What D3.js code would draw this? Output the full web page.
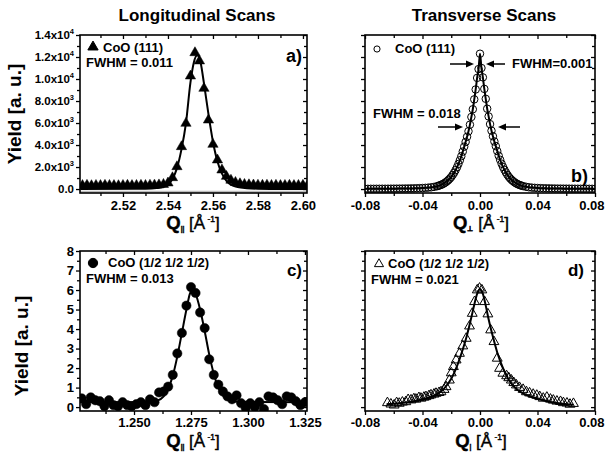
<!DOCTYPE html>
<html>
<head>
<meta charset="utf-8">
<script src="https://cdn.jsdelivr.net/npm/d3@7"></script>
<style>
body { margin: 0; background: #fff; }
svg { font-family: "Liberation Sans", Arial, sans-serif; font-weight: bold; }
</style>
</head>
<body>
<svg id="chart" width="605" height="452"></svg>
<script>
// ---- panel a) longitudinal CoO (111) ----
var aX = [2.502, 2.504, 2.506, 2.508, 2.510, 2.512, 2.514, 2.516, 2.518, 2.520, 2.522, 2.524, 2.526, 2.528, 2.530,
    2.532, 2.534, 2.536, 2.538, 2.540, 2.542, 2.544, 2.546, 2.548, 2.550, 2.552, 2.554, 2.556, 2.558, 2.560,
    2.562, 2.564, 2.566, 2.568, 2.570, 2.572, 2.574, 2.576, 2.578, 2.580, 2.582, 2.584, 2.586, 2.588, 2.590,
    2.592, 2.594, 2.596, 2.598, 2.600, 2.602];
var aY = [320, 340, 310, 330, 320, 340, 330, 320, 310, 330, 340, 320, 330, 340, 330,
    350, 360, 380, 420, 550, 1030, 2030, 3850, 5970, 10270, 12390, 11640, 9150, 6270, 4060,
    2640, 1730, 1150, 800, 600, 480, 420, 390, 370, 350, 340, 350, 330, 340, 320,
    330, 340, 320, 330, 340, 320];
var aFitX = [2.501, 2.525, 2.530, 2.535, 2.538, 2.540, 2.542, 2.544, 2.546, 2.548, 2.550, 2.5515, 2.553,
    2.5545, 2.556, 2.558, 2.560, 2.562, 2.564, 2.566, 2.568, 2.571, 2.575, 2.580, 2.590, 2.602];
var aFitY = [0, 20, 30, 90, 200, 400, 900, 1900, 3600, 6000, 9700, 11500, 12150,
    11500, 9600, 6800, 4300, 2500, 1400, 750, 400, 180, 80, 30, 10, 0];
var aYTicks = [0, 2000, 4000, 6000, 8000, 10000, 12000, 14000];
var aYTickText = ["0.0", "2.0x10", "4.0x10", "6.0x10", "8.0x10", "1.0x10", "1.2x10", "1.4x10"];
var aYTickExp = ["", "3", "3", "3", "3", "4", "4", "4"];
var aXTicks = [2.52, 2.54, 2.56, 2.58, 2.60];

// ---- panel b) transverse CoO (111) ----
var bX = [-0.080, -0.078, -0.076, -0.074, -0.072, -0.070, -0.068, -0.066, -0.064, -0.062, -0.060, -0.058, -0.056,
    -0.054, -0.052, -0.050, -0.048, -0.046, -0.044, -0.042, -0.040, -0.038, -0.036, -0.034, -0.032,
    -0.030, -0.029, -0.028, -0.027, -0.026, -0.025, -0.024, -0.023, -0.022, -0.021, -0.020, -0.019, -0.018,
    -0.017, -0.016, -0.015, -0.014, -0.013, -0.012, -0.011, -0.010, -0.009, -0.008, -0.007, -0.006, -0.005,
    -0.004, -0.003, -0.002, -0.001, 0.000, 0.001, 0.002, 0.003, 0.004, 0.005, 0.006, 0.007, 0.008, 0.009,
    0.010, 0.011, 0.012, 0.013, 0.014, 0.015, 0.016, 0.017, 0.018, 0.019, 0.020, 0.021, 0.022, 0.023,
    0.024, 0.025, 0.026, 0.027, 0.028, 0.029, 0.030,
    0.032, 0.034, 0.036, 0.038, 0.040, 0.042, 0.044, 0.046, 0.048, 0.050, 0.052, 0.054, 0.056, 0.058,
    0.060, 0.062, 0.064, 0.066, 0.068, 0.070, 0.072, 0.074, 0.076, 0.078, 0.080];
var bY = [20, 20, 22, 22, 24, 25, 27, 28, 30, 32, 35, 37, 40,
    43, 47, 51, 56, 62, 70, 80, 92, 108, 128, 155, 195,
    250, 290, 335, 385, 445, 515, 600, 700, 815, 945, 1100, 1280, 1480,
    1720, 1980, 2280, 2620, 2980, 3400, 3850, 4280, 4750, 5250, 5850, 6550, 7250,
    8150, 9050, 10100, 10900, 12300, 11000, 10150, 9100, 8200, 7300, 6600, 5900, 5300, 4800,
    4320, 3900, 3450, 3030, 2660, 2310, 2010, 1750, 1510, 1300, 1120, 960, 830, 715,
    615, 525, 455, 395, 345, 300, 262,
    205, 160, 130, 110, 93, 81, 71, 63, 57, 52, 47, 43, 40, 37,
    35, 33, 31, 29, 27, 26, 24, 23, 22, 21, 20];
var bXTicks = [-0.08, -0.04, 0.00, 0.04, 0.08];

// ---- panel c) longitudinal CoO (1/2 1/2 1/2) ----
var cX = [1.227, 1.229, 1.231, 1.233, 1.235, 1.237, 1.239, 1.241, 1.243, 1.245, 1.247, 1.249, 1.251,
    1.253, 1.255, 1.257, 1.259, 1.261, 1.263, 1.265, 1.267, 1.269, 1.271, 1.273, 1.275, 1.277, 1.279,
    1.281, 1.283, 1.285, 1.287, 1.289, 1.291, 1.293, 1.295, 1.297, 1.299, 1.301, 1.303, 1.305, 1.307,
    1.309, 1.311, 1.313, 1.315, 1.317, 1.319, 1.321, 1.323, 1.325];
var cY = [0.45, 0.15, 0.50, 0.35, 0.30, 0.05, 0.35, 0.10, 0.05, 0.25, 0.10, 0.05, 0.15,
    0.25, 0.10, 0.40, 0.25, 0.75, 0.80, 1.05, 1.65, 2.75, 3.80, 5.20, 6.15, 5.85, 4.85,
    4.05, 2.45, 1.65, 1.15, 0.80, 0.55, 0.40, 0.60, 0.20, -0.05, 0.20, 0.00, 0.25, -0.10,
    0.55, 0.50, 0.35, 0.15, 0.55, 0.50, 0.30, 0.10, 0.25];
var cFitX = [1.226, 1.250, 1.257, 1.260, 1.263, 1.265, 1.267, 1.269, 1.271, 1.273, 1.2745, 1.2755,
    1.277, 1.279, 1.281, 1.283, 1.285, 1.287, 1.289, 1.292, 1.296, 1.326];
var cFitY = [0.25, 0.25, 0.27, 0.32, 0.55, 0.95, 1.60, 2.60, 3.80, 5.00, 5.80, 6.00,
    5.80, 5.00, 3.90, 2.70, 1.70, 1.00, 0.60, 0.35, 0.27, 0.25];
var cYTicks = [0, 1, 2, 3, 4, 5, 6, 7, 8];
var cXTicks = [1.250, 1.275, 1.300, 1.325];

// ---- panel d) transverse CoO (1/2 1/2 1/2) ----
var dX = [-0.0644, -0.0620, -0.0597, -0.0580, -0.0562, -0.0540, -0.0516, -0.0500, -0.0480, -0.0460, -0.0446,
    -0.0425, -0.0411, -0.0390, -0.0376, -0.0355, -0.0341, -0.0320, -0.0306, -0.0285, -0.0271, -0.0250,
    -0.0236, -0.0213, -0.0200, -0.0185, -0.0166, -0.0143, -0.0120, -0.0096, -0.0073, -0.0054, -0.0038,
    -0.0019, -0.0003, 0.0013, 0.0032, 0.0055, 0.0074, 0.0097, 0.0120, 0.0136, 0.0159, 0.0185, 0.0200,
    0.0218, 0.0235, 0.0253, 0.0275, 0.0300, 0.0323, 0.0345, 0.0370, 0.0395, 0.0416, 0.0440, 0.0465,
    0.0490, 0.0510, 0.0535, 0.0560, 0.0580, 0.0605, 0.0626, 0.0650];
var dY = [0.22, 0.15, 0.10, 0.22, 0.19, 0.25, 0.27, 0.38, 0.36, 0.42, 0.40,
    0.48, 0.45, 0.50, 0.53, 0.58, 0.62, 0.66, 0.70, 0.74, 0.78, 0.90,
    1.04, 1.38, 1.75, 2.07, 2.41, 2.75, 3.13, 3.52, 4.15, 4.80, 5.40,
    6.00, 6.09, 6.00, 5.40, 4.77, 3.95, 3.35, 2.50, 1.98, 1.73, 1.60, 1.50,
    1.38, 1.25, 1.13, 1.00, 0.90, 0.78, 0.72, 0.65, 0.60, 0.53, 0.45, 0.50,
    0.40, 0.35, 0.30, 0.28, 0.22, 0.20, 0.14, 0.18];
var dFitX = [-0.065, -0.050, -0.040, -0.030, -0.025, -0.020, -0.016, -0.012, -0.009, -0.006, -0.004, -0.002,
    0.000, 0.002, 0.004, 0.006, 0.009, 0.012, 0.016, 0.020, 0.025, 0.030, 0.040, 0.050, 0.065];
var dFitY = [0.15, 0.25, 0.40, 0.65, 0.95, 1.45, 2.10, 2.95, 3.70, 4.60, 5.25, 5.80,
    6.05, 5.80, 5.20, 4.50, 3.60, 2.80, 2.00, 1.40, 0.95, 0.70, 0.42, 0.25, 0.12];

var svg = d3.select("#chart");
var hyphen = function (f) { return function (d) { return f(d).replace("\u2212", "-"); }; };

function zip(xs, ys) {
    return xs.map(function (v, i) { return [v, ys[i]]; });
}

function drawPanel(o) {
    var x = d3.scaleLinear().domain(o.xDom).range([o.left, o.right]);
    var y = d3.scaleLinear().domain(o.yDom).range([o.bottom, o.top]);
    var g = svg.append("g");

    g.append("clipPath").attr("id", o.id + "clip")
        .append("rect").attr("x", o.left).attr("y", o.top)
        .attr("width", o.right - o.left).attr("height", o.bottom - o.top);

    // minor ticks first, then major
    var ax = function (gen, tr) {
        var s = g.append("g").attr("transform", tr).call(gen);
        s.select(".domain").remove();
        s.selectAll("line").attr("stroke-width", 1.3);
        return s;
    };
    ax(d3.axisBottom(x).tickValues(o.xMinor).tickSize(3).tickFormat(""), "translate(0," + o.bottom + ")");
    ax(d3.axisTop(x).tickValues(o.xMinor).tickSize(-3).tickFormat(""), "translate(0," + o.top + ")");
    ax(d3.axisLeft(y).tickValues(o.yMinor).tickSize(3).tickFormat(""), "translate(" + o.left + ",0)");
    ax(d3.axisRight(y).tickValues(o.yMinor).tickSize(-3).tickFormat(""), "translate(" + o.right + ",0)");

    var bx = ax(d3.axisBottom(x).tickValues(o.xTicks).tickSize(4).tickPadding(o.xPad || 4).tickFormat(o.xFmt),
        "translate(0," + o.bottom + ")");
    bx.selectAll("text").attr("font-size", 13).attr("font-weight", "bold")
        .attr("font-family", "Liberation Sans, Arial, sans-serif").attr("fill", "#000");
    if (o.lastEnd) {
        // keep the last label inside the page
        bx.selectAll("text").filter(function (d, i, n) { return i === n.length - 1; })
            .attr("text-anchor", "end").attr("x", 9);
    }
    ax(d3.axisTop(x).tickValues(o.xTicks).tickSize(-4).tickFormat(""), "translate(0," + o.top + ")");
    var ly = ax(d3.axisLeft(y).tickValues(o.yTicks).tickSize(4).tickPadding(2).tickFormat(o.yFmt || ""),
        "translate(" + o.left + ",0)");
    ly.selectAll("text").attr("font-size", o.yFont || 12).attr("font-weight", "bold")
        .attr("font-family", "Liberation Sans, Arial, sans-serif").attr("fill", "#000");
    if (o.yExp) {
        ly.selectAll("text").each(function (d, i) {
            var t = d3.select(this);
            t.text(o.yText[i]);
            if (o.yExp[i]) {
                t.append("tspan").attr("font-size", 7.5).attr("dy", -5).text(o.yExp[i]);
            }
        });
    }
    ax(d3.axisRight(y).tickValues(o.yTicks).tickSize(-4).tickFormat(""), "translate(" + o.right + ",0)");

    var plot = g.append("g").attr("clip-path", "url(#" + o.id + "clip)");
    return { x: x, y: y, g: g, plot: plot, o: o };
}

function frame(p) {
    p.g.append("rect").attr("x", p.o.left).attr("y", p.o.top)
        .attr("width", p.o.right - p.o.left).attr("height", p.o.bottom - p.o.top)
        .attr("fill", "none").attr("stroke", "#000").attr("stroke-width", 1.6);
}

function fitLine(p, pts) {
    p.plot.append("path").datum(pts)
        .attr("fill", "none").attr("stroke", "#000").attr("stroke-width", 2)
        .attr("d", d3.line().x(function (d) { return p.x(d[0]); })
            .y(function (d) { return p.y(d[1]); }).curve(d3.curveMonotoneX));
}

function markers(p, pts, type, size, filled) {
    p.plot.selectAll(null).data(pts).enter().append("path")
        .attr("transform", function (d) { return "translate(" + p.x(d[0]) + "," + p.y(d[1]) + ")"; })
        .attr("d", d3.symbol().type(type).size(size))
        .attr("fill", filled ? "#000" : "#fff").attr("fill-opacity", filled ? 1 : 0)
        .attr("stroke", "#000").attr("stroke-width", filled ? 0.5 : 1);
}

function label(parts, x, y, anchor) {
    var t = svg.append("text").attr("x", x).attr("y", y).attr("text-anchor", anchor || "start");
    parts.forEach(function (pt) {
        var s = t.append("tspan").text(pt.t);
        if (pt.size) s.attr("font-size", pt.size);
        if (pt.dy) s.attr("dy", pt.dy);
        if (pt.w) s.attr("font-weight", pt.w);
        if (pt.dx) s.attr("dx", pt.dx);
    });
    return t;
}

function arrow(x1, y1, x2, y2) {
    // head at (x2, y2)
    var dir = x2 > x1 ? 1 : -1;
    svg.append("line").attr("x1", x1).attr("y1", y1).attr("x2", x2 - dir * 5).attr("y2", y2)
        .attr("stroke", "#000").attr("stroke-width", 1.5);
    svg.append("path")
        .attr("d", "M" + x2 + "," + y2 + "L" + (x2 - dir * 8) + "," + (y2 - 3.5) + "L" + (x2 - dir * 8) + "," + (y2 + 3.5) + "Z")
        .attr("fill", "#000");
}

// ---- a) ----
var pa = drawPanel({
    id: "a", left: 80, right: 307, top: 35, bottom: 193,
    xDom: [2.5009, 2.6018], yDom: [-360, 14000],
    xTicks: aXTicks, xMinor: [2.51, 2.53, 2.55, 2.57, 2.59],
    yTicks: aYTicks, yMinor: [1000, 3000, 5000, 7000, 9000, 11000, 13000],
    xFmt: d3.format(".2f"), yFmt: function (d) { return d; }, yText: aYTickText, yExp: aYTickExp, yFont: 11.5
});
pa.plot.append("line").attr("x1", 80).attr("x2", 307)
    .attr("y1", pa.y(-250)).attr("y2", pa.y(-250)).attr("stroke", "#bbb").attr("stroke-width", 2);
fitLine(pa, zip(aFitX, aFitY));
markers(pa, zip(aX, aY), d3.symbolTriangle, 46, true);
frame(pa);

// ---- b) ----
var pb = drawPanel({
    id: "b", left: 365, right: 595, top: 35, bottom: 193,
    xDom: [-0.08, 0.08], yDom: [-360, 14000],
    xTicks: bXTicks, xMinor: [-0.06, -0.02, 0.02, 0.06],
    yTicks: aYTicks, yMinor: [1000, 3000, 5000, 7000, 9000, 11000, 13000],
    xFmt: hyphen(d3.format(".2f")), lastEnd: true
});
fitLine(pb, zip(bX, bY));
markers(pb, zip(bX, bY), d3.symbolCircle, 44, false);
frame(pb);

// ---- c) ----
var pc = drawPanel({
    id: "c", left: 80, right: 307, top: 251, bottom: 411,
    xDom: [1.2263, 1.3259], yDom: [-0.2, 8],
    xTicks: cXTicks, xMinor: [1.2375, 1.2625, 1.2875, 1.3125],
    yTicks: cYTicks, yMinor: [0.5, 1.5, 2.5, 3.5, 4.5, 5.5, 6.5, 7.5],
    xFmt: d3.format(".3f"), yFmt: d3.format("d"), yFont: 13, xPad: 3
});
fitLine(pc, zip(cFitX, cFitY));
markers(pc, zip(cX, cY), d3.symbolCircle, 68, true);
frame(pc);

// ---- d) ----
var pd = drawPanel({
    id: "d", left: 365, right: 595, top: 251, bottom: 411,
    xDom: [-0.08, 0.08], yDom: [-0.2, 8],
    xTicks: bXTicks, xMinor: [-0.06, -0.02, 0.02, 0.06],
    yTicks: cYTicks, yMinor: [0.5, 1.5, 2.5, 3.5, 4.5, 5.5, 6.5, 7.5],
    xFmt: hyphen(d3.format(".2f")), lastEnd: true, xPad: 3
});
fitLine(pd, zip(dFitX, dFitY));
markers(pd, zip(dX, dY), d3.symbolTriangle, 42, false);
frame(pd);

// ---- titles ----
svg.append("text").attr("x", 197).attr("y", 21).attr("text-anchor", "middle")
    .attr("font-size", 17).text("Longitudinal  Scans");
svg.append("text").attr("x", 484).attr("y", 21).attr("text-anchor", "middle")
    .attr("font-size", 17).text("Transverse  Scans");

svg.append("text").attr("transform", "translate(21,114) rotate(-90)").attr("text-anchor", "middle")
    .attr("font-size", 19).text("Yield [a. u.]");
svg.append("text").attr("transform", "translate(28,346) rotate(-90)").attr("text-anchor", "middle")
    .attr("font-size", 19).text("Yield [a. u.]");

function qTitle(sub, cx, y) {
    var t = label([
        { t: "Q", size: 18.5 },
        { t: sub, size: 6.5, dy: 2 },
        { t: " [Å", size: 17, dy: -2, w: "normal" },
        { t: " -1", size: 8.5, dy: -7, w: "normal" },
        { t: "]", size: 17, dy: 7, w: "normal" }
    ], cx, y, "middle");
    t.attr("stroke", "#000").attr("stroke-width", 0.4);
}
qTitle("||", 193, 229);
qTitle("\u22a5", 481, 229);
qTitle("||", 193, 447);
qTitle("|", 481, 447);

// ---- legends ----
var legend = [
    { x: 93, y: 47, sym: d3.symbolTriangle, size: 46, fill: true, name: "CoO (111)", tx: 103, ty: 52, fw: "FWHM = 0.011", fx: 86, fy: 67 },
    { x: 377, y: 49, sym: d3.symbolCircle, size: 30, fill: false, name: "CoO (111)", tx: 395, ty: 53 },
    { x: 93, y: 263, sym: d3.symbolCircle, size: 68, fill: true, name: "CoO (1/2 1/2 1/2)", tx: 108, ty: 267, fw: "FWHM = 0.013", fx: 86, fy: 283 },
    { x: 379, y: 264, sym: d3.symbolTriangle, size: 36, fill: false, name: "CoO (1/2 1/2 1/2)", tx: 388, ty: 268, fw: "FWHM = 0.021", fx: 371, fy: 284 }
];
legend.forEach(function (l) {
    svg.append("path").attr("transform", "translate(" + l.x + "," + l.y + ")")
        .attr("d", d3.symbol().type(l.sym).size(l.size))
        .attr("fill", l.fill ? "#000" : "none").attr("stroke", "#000").attr("stroke-width", 1);
    svg.append("text").attr("x", l.tx).attr("y", l.ty).attr("font-size", 13).text(l.name);
    if (l.fw) svg.append("text").attr("x", l.fx).attr("y", l.fy).attr("font-size", 13).text(l.fw);
});

svg.append("text").attr("x", 302).attr("y", 62).attr("text-anchor", "end").attr("font-size", 18).text("a)");
svg.append("text").attr("x", 588).attr("y", 182).attr("text-anchor", "end").attr("font-size", 18).text("b)");
svg.append("text").attr("x", 302).attr("y", 276).attr("text-anchor", "end").attr("font-size", 17).text("c)");
svg.append("text").attr("x", 584).attr("y", 276).attr("text-anchor", "end").attr("font-size", 17).text("d)");

// FWHM annotations in b)
svg.append("text").attr("x", 512).attr("y", 68).attr("font-size", 13).text("FWHM=0.001");
svg.append("text").attr("x", 373).attr("y", 118).attr("font-size", 13).text("FWHM = 0.018");
arrow(450, 64, 474, 64);
arrow(505, 64, 486, 64);
arrow(438, 127, 463, 127);
arrow(520, 127, 498, 127);
</script>
</body>
</html>
